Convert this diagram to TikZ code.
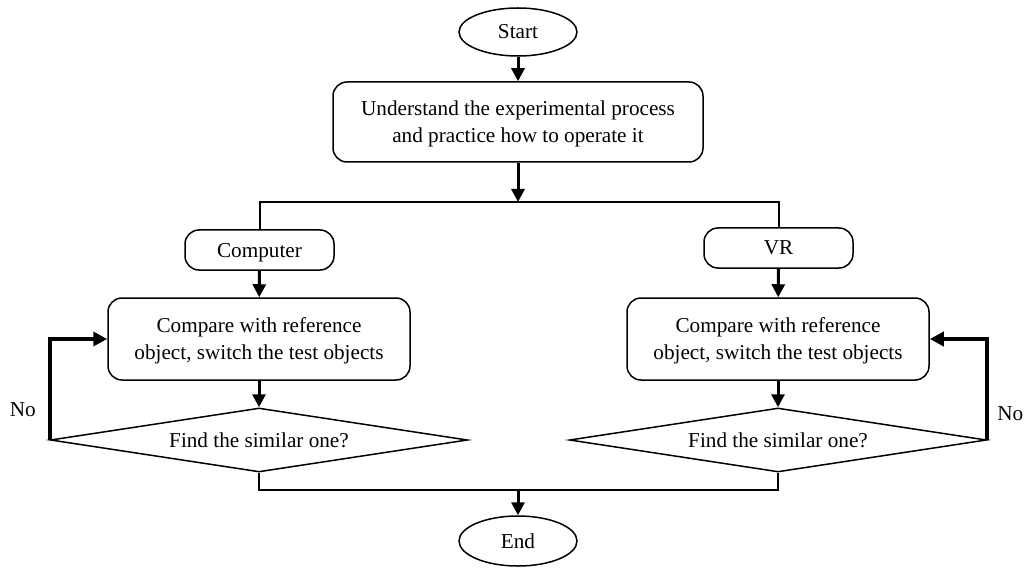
\documentclass[tikz,border=0pt]{standalone}
\usepackage{fontspec}
\setmainfont{Liberation Serif}
\usetikzlibrary{shapes.geometric,arrows.meta}
\begin{document}
\begin{tikzpicture}[x=1pt,y=-1pt,
  every node/.style={font=\fontsize{21.2}{27}\selectfont},
  box/.style={draw,line width=1.5pt,rounded corners=14pt,align=center,inner sep=0pt,text depth=0pt},
  oval/.style={draw,ellipse,line width=1.5pt,minimum width=118pt,minimum height=48pt,inner sep=0pt},
  decision/.style={draw,diamond,shape aspect=6.5,line width=1.5pt,minimum width=417pt,minimum height=64pt,inner sep=0pt,text depth=0pt},
  flow/.style={line width=3pt,-{Triangle[length=13pt,width=13pt]}},
  loopback/.style={line width=4pt,-{Triangle[length=14pt,width=14pt]}},
  link/.style={line width=2pt},
  lbl/.style={inner sep=0pt}]
\useasboundingbox (0,0) rectangle (1032,569);
% main column
\node[oval] (start) at (518,32) {Start};
\node[box,minimum width=370pt,minimum height=80pt] (learn) at (518,122)
  {Understand the experimental process\\and practice how to operate it};
\coordinate (split) at (518,202);
% two branches
\node[box,minimum width=149pt,minimum height=40pt] (pc) at (259.5,250) {Computer};
\node[box,minimum width=149pt,minimum height=40pt] (vr) at (778.5,248) {VR};
\node[box,minimum width=302pt,minimum height=82pt] (cmpL) at (259,339)
  {Compare with reference\\object, switch the test objects};
\node[box,minimum width=302pt,minimum height=82pt] (cmpR) at (778,339)
  {Compare with reference\\object, switch the test objects};
\node[decision] (findL) at (259,440) {Find the similar one?};
\node[decision] (findR) at (778,440) {Find the similar one?};
\coordinate (join) at (518,490);
\node[oval,minimum height=50pt] (end) at (518,541) {End};
% connectors
\draw[flow] (start) -- (learn);
\draw[flow] (learn) -- (split);
\draw[link] (pc.north) |- (split) -| (vr.north);
\draw[flow] (pc) -- (cmpL);
\draw[flow] (vr) -- (cmpR);
\draw[flow] (cmpL) -- (findL);
\draw[flow] (cmpR) -- (findR);
\draw[loopback] (findL.west) |- node[lbl,pos=0.15,left=12pt] {No} (cmpL.west);
\draw[loopback] (findR.east) |- node[lbl,pos=0.13,right=8pt] {No} (cmpR.east);
\draw[link] (findL.south) |- (join) -| (findR.south);
\draw[flow] (join) -- (end);
\end{tikzpicture}
\end{document}
